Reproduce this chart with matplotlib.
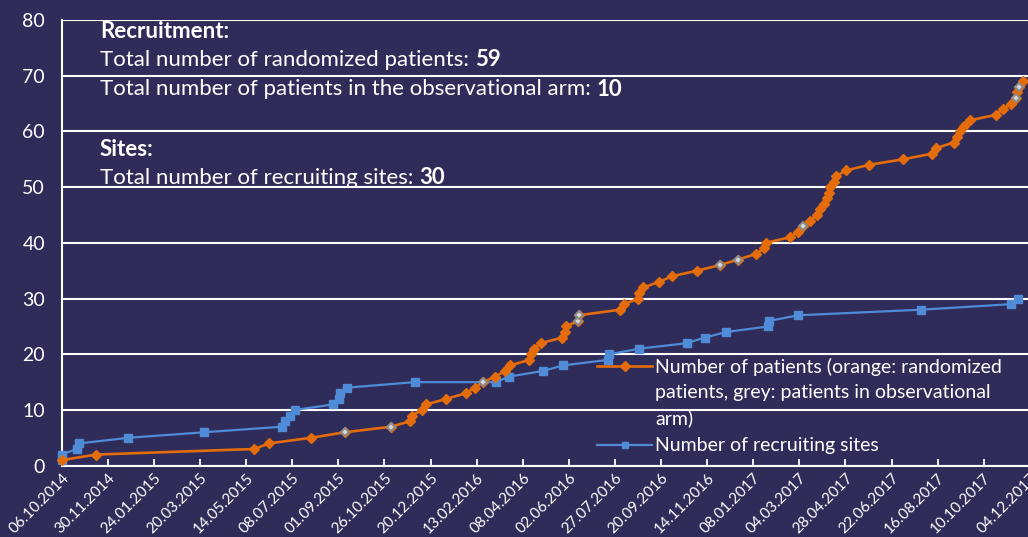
import numpy as np
import matplotlib
matplotlib.use("Agg")
import matplotlib.pyplot as plt
import matplotlib.dates as mdates
from matplotlib.lines import Line2D

# ---------------- data ----------------
start_date = np.datetime64("2014-10-06")
tick_step_days = 55
n_ticks = 22

# cumulative number of patients (1..69): day of inclusion (days after 06.10.2014)
patient_day = [0, 41, 230, 247, 297, 338, 393, 416, 418, 430,
               435, 459, 482, 493, 503, 517, 529, 535, 558, 560,
               563, 572, 597, 600, 602, 616, 617, 666, 671, 688,
               689, 694, 713, 728, 758, 785, 807, 828, 838, 840,
               869, 878, 885, 893, 901, 905, 910, 913, 916, 917,
               921, 924, 936, 963, 1004, 1038, 1043, 1064, 1068, 1072,
               1076, 1084, 1115, 1123, 1133, 1139, 1140, 1142, 1147]
patient_count = list(range(1, 70))
# which of these patients are in the observational arm (grey markers)
observational_count = [6, 7, 15, 26, 27, 36, 37, 43, 66, 68]

# cumulative number of recruiting sites
site_day = [0, 0, 18, 21, 79, 170, 263, 267, 272, 278,
            324, 331, 332, 340, 421, 518, 534, 574, 598, 652,
            653, 689, 746, 767, 793, 843, 844, 879, 1025, 1133, 1141]
site_count = [1, 2, 3, 4, 5, 6, 7, 8, 9, 10,
              11, 12, 13, 14, 15, 15, 16, 17, 18, 19,
              20, 21, 22, 23, 24, 25, 26, 27, 28, 29, 30]

n_randomized = 59
n_observational = 10
n_sites = 30

legend_patients = ["Number of patients (orange: randomized",
                   "patients, grey: patients in observational",
                   "arm)"]
legend_sites = "Number of recruiting sites"

# ---------------- style ----------------
BG = "#302c59"
ORANGE = "#e46c0a"
BLUE = "#4f8bd6"
FONT = ["Lato", "DejaVu Sans"]
plt.rcParams["font.family"] = FONT

W, H = 1028, 537
fig = plt.figure(figsize=(W / 100, H / 100), dpi=100, facecolor=BG)

x0_px, x1_px = 61.7, 1029.8
y0_px, y1_px = 465.7, 20.0
ax = fig.add_axes([x0_px / W, 1 - y0_px / H, (x1_px - x0_px) / W, (y0_px - y1_px) / H])
ax.set_facecolor(BG)

p_dates = start_date + np.array(patient_day).astype("timedelta64[D]")
s_dates = start_date + np.array(site_day).astype("timedelta64[D]")
obs_idx = [patient_count.index(c) for c in observational_count]

ax.plot(s_dates, site_count, color=BLUE, lw=1.6, marker="s", ms=5.5,
        mfc=BLUE, mec=BLUE, zorder=3, clip_on=False)
ax.plot(p_dates, patient_count, color=ORANGE, lw=1.9, marker="D", ms=5,
        mfc=ORANGE, mec=ORANGE, zorder=4, clip_on=False)
ax.plot(p_dates[obs_idx], np.array(patient_count)[obs_idx], ls="none",
        marker="D", ms=4.5, mfc="#d8d8d8", mec="#8a8a8a", mew=1.4, zorder=5,
        clip_on=False)

# axes
ax.set_ylim(0, 80)
ax.set_yticks(range(0, 81, 10))
tick_dates = start_date + (np.arange(n_ticks) * tick_step_days).astype("timedelta64[D]")
ax.set_xlim(start_date, tick_dates[-1])
ax.set_xticks(tick_dates)
ax.xaxis.set_major_formatter(mdates.DateFormatter("%d.%m.%Y"))
for lab in ax.get_xticklabels():
    lab.set_rotation(45)
    lab.set_ha("right")
    lab.set_rotation_mode("anchor")

ax.tick_params(axis="x", direction="in", length=5, width=1.3, colors="white",
               labelsize=11, pad=4)
ax.tick_params(axis="y", length=0, colors="white", labelsize=14, pad=12)
ax.grid(axis="y", color="white", lw=1.5)
ax.set_axisbelow(True)
for side in ("top", "right"):
    ax.spines[side].set_visible(False)
for side in ("left", "bottom"):
    ax.spines[side].set_color("white")
    ax.spines[side].set_linewidth(1.5)

# annotation text block
def fy(ypx):
    return 1 - ypx / H

tx = 100 / W
fs_txt = 16
fig.text(tx, fy(32), "Recruitment:", color="white", fontsize=fs_txt,
         fontweight="bold", va="center")
t1 = fig.text(tx, fy(60), "Total number of randomized patients: ", color="white",
              fontsize=fs_txt, va="center")
t2 = fig.text(tx, fy(89), "Total number of patients in the observational arm: ",
              color="white", fontsize=fs_txt, va="center")
fig.text(tx, fy(150), "Sites:", color="white", fontsize=fs_txt,
         fontweight="bold", va="center")
t3 = fig.text(tx, fy(178), "Total number of recruiting sites: ", color="white",
              fontsize=fs_txt, va="center")
bold_texts = []
for num in (n_randomized, n_observational, n_sites):
    bold_texts.append(fig.text(0, 0, str(num), color="white", fontsize=fs_txt,
                               fontweight="bold", va="center", ha="left"))
fig.canvas.draw()
# position the bold numbers right after their labels
for t, b in zip((t1, t2, t3), bold_texts):
    bb = t.get_window_extent()
    b.set_position((bb.x1 / W, t.get_position()[1]))

# legend (drawn by hand to mimic the Excel layout)
lx0, lx1 = 597 / W, 652 / W
fig.add_artist(Line2D([lx0, lx1], [fy(366), fy(366)], color=ORANGE, lw=1.9))
fig.add_artist(Line2D([(lx0 + lx1) / 2], [fy(366)], color=ORANGE, marker="D",
                      ms=5, mfc=ORANGE, mec=ORANGE))
fig.add_artist(Line2D([lx0, lx1], [fy(445), fy(445)], color=BLUE, lw=1.6))
fig.add_artist(Line2D([(lx0 + lx1) / 2], [fy(445)], color=BLUE, marker="s",
                      ms=4, mfc=BLUE, mec=BLUE))
fs_leg = 14
for i, line in enumerate(legend_patients):
    fig.text(655 / W, fy(367 + i * 25.5), line, color="white", fontsize=fs_leg,
             va="center")
fig.text(655 / W, fy(445), legend_sites, color="white", fontsize=fs_leg, va="center")

fig.savefig("out.png", dpi=100, facecolor=BG)
